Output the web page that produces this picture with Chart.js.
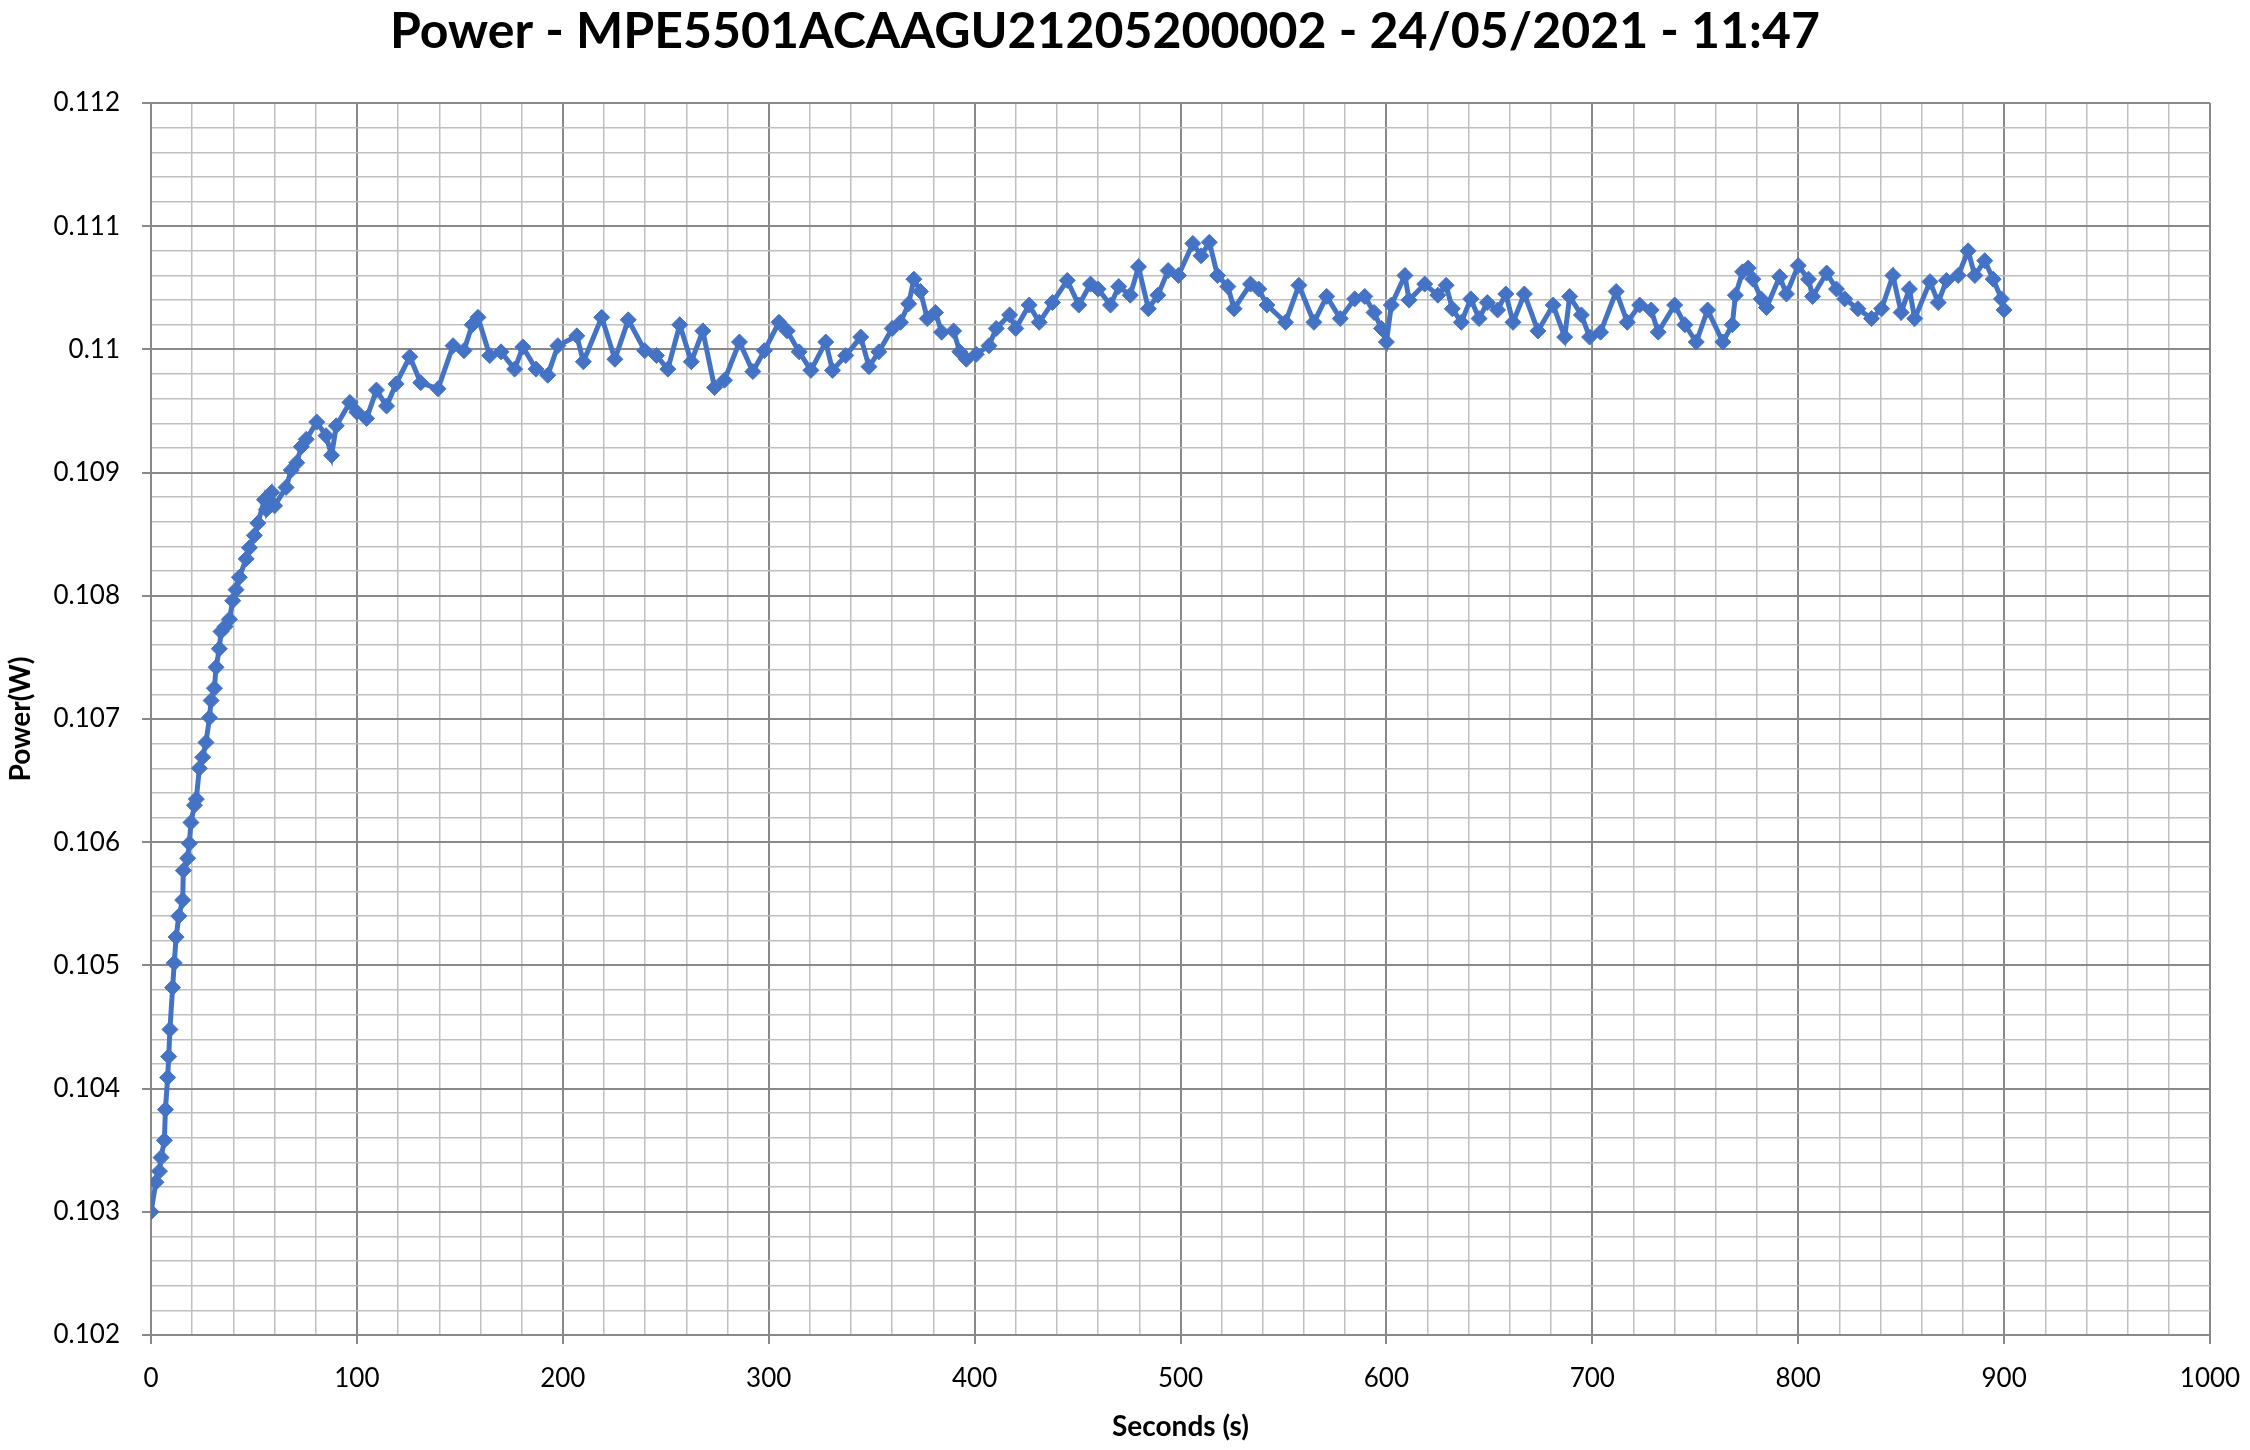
<!DOCTYPE html>
<html>
<head>
<meta charset="utf-8">
<title>Power</title>
<script src="https://cdn.jsdelivr.net/npm/chart.js@4.4.1/dist/chart.umd.min.js"></script>
<style>
	html, body { margin: 0; padding: 0; background: #fff; }
	canvas { display: block; }
</style>
</head>
<body>
<canvas id="chart" width="2250" height="1450"></canvas>
<script>
"use strict";


const titleText = "Power - MPE5501ACAAGU21205200002 - 24/05/2021 - 11:47";
const xTitle = "Seconds (s)";
const yTitle = "Power(W)";

const xMajorTicks = [0, 100, 200, 300, 400, 500, 600, 700, 800, 900, 1000];
const yMajorTicks = [0.102, 0.103, 0.104, 0.105, 0.106, 0.107, 0.108, 0.109, 0.110, 0.111, 0.112];
const minorPerMajor = 5;

// seconds / watts
const seconds = [
	0, 2.4, 4.1, 4.9, 6.5, 7, 8.1, 8.6, 9.2, 10.5,
	11.3, 12.2, 13.5, 15.4, 15.7, 17.8, 18.6, 19.4, 21.1, 22,
	23.5, 25.1, 26.7, 28.4, 29.2, 30.8, 31.6, 33.2, 34, 36,
	38.1, 39.7, 41.3, 42.9, 46.2, 47.8, 50.2, 51.9, 55.1, 56,
	58.6, 60, 65.6, 68.1, 70.8, 73, 75.4, 80.5, 85, 87.7,
	90, 96.6, 100, 104.7, 109.5, 114.4, 119, 125.7, 131, 139.4,
	146.7, 152, 156, 158.8, 164.5, 170, 176.6, 180.6, 187, 192.7,
	197.6, 206.8, 210, 218.9, 225.3, 231.8, 239.8, 245.5, 251, 256.8,
	262.4, 268, 273.7, 278.5, 285.8, 292.3, 297.9, 305, 309, 314.8,
	320.5, 327.7, 331, 337.4, 344.7, 348.7, 353.5, 360, 364, 368,
	370.5, 373.7, 377, 381, 384, 389.8, 392.8, 396, 400.8, 407,
	410.5, 417, 420, 426.5, 431.4, 437.8, 445, 450.6, 456.3, 460,
	466, 470, 475.6, 479.6, 484.4, 489, 494, 499, 506, 510,
	514, 518, 523, 526, 534, 538, 542, 551, 557.5, 564.8,
	571, 577.6, 584.6, 589.5, 594, 597.6, 600, 602.4, 609, 611,
	618.6, 625, 629, 632, 636.4, 641, 645, 649, 654, 658,
	661.5, 667, 673.6, 681, 686.6, 689, 694.7, 698.7, 704, 711.6,
	717, 723, 728.6, 732, 740, 745, 750.5, 756, 763.4, 768,
	769.5, 773, 775.7, 778, 782, 784.6, 791, 794.3, 800, 805,
	807, 813.8, 818.6, 822.6, 829, 835.6, 840.5, 846, 850, 854,
	856.6, 864, 868, 872, 877.7, 882.5, 885.8, 890.6, 894.7, 898.7,
	900,
];

const power = [
	0.10300, 0.10324, 0.10333, 0.10344, 0.10358, 0.10383, 0.10409, 0.10426, 0.10448, 0.10482,
	0.10502, 0.10523, 0.10540, 0.10553, 0.10577, 0.10587, 0.10599, 0.10616, 0.10630, 0.10635,
	0.10660, 0.10669, 0.10681, 0.10701, 0.10715, 0.10725, 0.10742, 0.10757, 0.10771, 0.10775,
	0.10781, 0.10796, 0.10805, 0.10815, 0.10830, 0.10839, 0.10849, 0.10859, 0.10878, 0.10870,
	0.10884, 0.10873, 0.10888, 0.10902, 0.10908, 0.10921, 0.10927, 0.10941, 0.10930, 0.10914,
	0.10938, 0.10957, 0.10949, 0.10944, 0.10967, 0.10954, 0.10972, 0.10994, 0.10973, 0.10968,
	0.11003, 0.10999, 0.11020, 0.11026, 0.10995, 0.10998, 0.10984, 0.11002, 0.10984, 0.10979,
	0.11003, 0.11011, 0.10990, 0.11026, 0.10992, 0.11024, 0.10999, 0.10995, 0.10984, 0.11020,
	0.10990, 0.11015, 0.10969, 0.10975, 0.11006, 0.10982, 0.10999, 0.11022, 0.11015, 0.10998,
	0.10983, 0.11006, 0.10983, 0.10995, 0.11010, 0.10986, 0.10998, 0.11017, 0.11022, 0.11037,
	0.11057, 0.11047, 0.11025, 0.11030, 0.11014, 0.11015, 0.10998, 0.10992, 0.10996, 0.11003,
	0.11017, 0.11028, 0.11017, 0.11036, 0.11022, 0.11038, 0.11056, 0.11036, 0.11053, 0.11049,
	0.11036, 0.11051, 0.11044, 0.11067, 0.11033, 0.11044, 0.11064, 0.11060, 0.11086, 0.11076,
	0.11087, 0.11060, 0.11051, 0.11033, 0.11053, 0.11049, 0.11036, 0.11022, 0.11052, 0.11022,
	0.11043, 0.11025, 0.11041, 0.11043, 0.11030, 0.11017, 0.11006, 0.11036, 0.11060, 0.11040,
	0.11053, 0.11044, 0.11052, 0.11033, 0.11022, 0.11041, 0.11025, 0.11038, 0.11032, 0.11045,
	0.11022, 0.11045, 0.11015, 0.11036, 0.11010, 0.11043, 0.11028, 0.11010, 0.11014, 0.11047,
	0.11022, 0.11036, 0.11032, 0.11014, 0.11036, 0.11020, 0.11006, 0.11032, 0.11006, 0.11020,
	0.11044, 0.11063, 0.11066, 0.11057, 0.11041, 0.11034, 0.11059, 0.11045, 0.11068, 0.11057,
	0.11043, 0.11062, 0.11049, 0.11041, 0.11033, 0.11025, 0.11033, 0.11060, 0.11030, 0.11049,
	0.11025, 0.11055, 0.11038, 0.11056, 0.11060, 0.11080, 0.11060, 0.11072, 0.11057, 0.11041,
	0.11032,
];


const seriesColor = "#4472c4";
const majorGridColor = "#898989";
const minorGridColor = "#bfbfbf";
const textColor = "#000";
const fontFamily = "Lato, 'Open Sans', sans-serif";


function buildTicks(majors) {
	const ticks = [];
	for (let i = 0; i < majors.length; i++) {
		ticks.push({ value: majors[i], major: true });
		if (i + 1 < majors.length) {
			const step = (majors[i + 1] - majors[i]) / minorPerMajor;
			for (let j = 1; j < minorPerMajor; j++) {
				ticks.push({ value: majors[i] + j * step, major: false });
			}
		}
	}
	return ticks;
}


function gridOptions() {
	return {
		color: ctx => (ctx.tick && ctx.tick.major) ? majorGridColor : minorGridColor,
		lineWidth: ctx => (ctx.tick && ctx.tick.major) ? 2 : 1.5,
		tickColor: ctx => (ctx.tick && ctx.tick.major) ? majorGridColor : "rgba(0,0,0,0)",
		tickWidth: 2,
		tickLength: 9,
		drawTicks: true,
	};
}


function setup_chart() {
	const ctx = document.getElementById("chart").getContext("2d");

	const data = {
		datasets: [{
			label: "Power",
			data: seconds.map((s, i) => ({ x: s, y: power[i] })),
			borderColor: seriesColor,
			backgroundColor: seriesColor,
			borderWidth: 5,
			tension: 0,
			pointStyle: "rectRot",
			pointRadius: 8,
			pointBorderWidth: 1,
			pointBackgroundColor: seriesColor,
			pointBorderColor: seriesColor,
		}],
	};

	const config = {
		type: "line",
		data: data,
		options: {
			responsive: false,
			animation: false,
			devicePixelRatio: 1,
			layout: {
				padding: { left: 0, right: 40, top: 0, bottom: 0 },
			},
			plugins: {
				legend: { display: false },
				tooltip: { enabled: false },
				title: {
					display: true,
					text: titleText,
					color: textColor,
					font: { family: fontFamily, size: 50, weight: "bold", lineHeight: 1 },
					padding: { top: 7, bottom: 46 },
				},
			},
			scales: {
				x: {
					type: "linear",
					min: 0,
					max: 1000,
					afterBuildTicks: scale => { scale.ticks = buildTicks(xMajorTicks); },
					afterFit: scale => {
						scale.height = 115;
						// keep the last label from pushing the plot edge in
						scale.paddingRight = 0;
						scale.paddingLeft = 0;
					},
					grid: gridOptions(),
					border: { display: true, color: majorGridColor, width: 2 },
					ticks: {
						autoSkip: false,
						maxRotation: 0,
						minRotation: 0,
						padding: 19,
						color: textColor,
						font: { family: fontFamily, size: 26 },
						callback: (value, index, ticks) => ticks[index].major ? String(value) : "",
					},
					title: {
						display: true,
						text: xTitle,
						color: textColor,
						font: { family: fontFamily, size: 28, weight: "bold" },
						padding: { top: 0, bottom: 6 },
					},
				},
				y: {
					type: "linear",
					min: 0.102,
					max: 0.112,
					afterBuildTicks: scale => { scale.ticks = buildTicks(yMajorTicks); },
					afterFit: scale => { scale.width = 151; },
					grid: gridOptions(),
					border: { display: true, color: majorGridColor, width: 2 },
					ticks: {
						autoSkip: false,
						padding: 22,
						color: textColor,
						font: { family: fontFamily, size: 26 },
						callback: (value, index, ticks) =>
							ticks[index].major ? String(parseFloat(value.toFixed(3))) : "",
					},
					title: {
						display: true,
						text: yTitle,
						color: textColor,
						font: { family: fontFamily, size: 28, weight: "bold" },
						padding: { top: 4, bottom: 0 },
					},
				},
			},
		},
	};

	new Chart(ctx, config);
}


setup_chart();
</script>
</body>
</html>
